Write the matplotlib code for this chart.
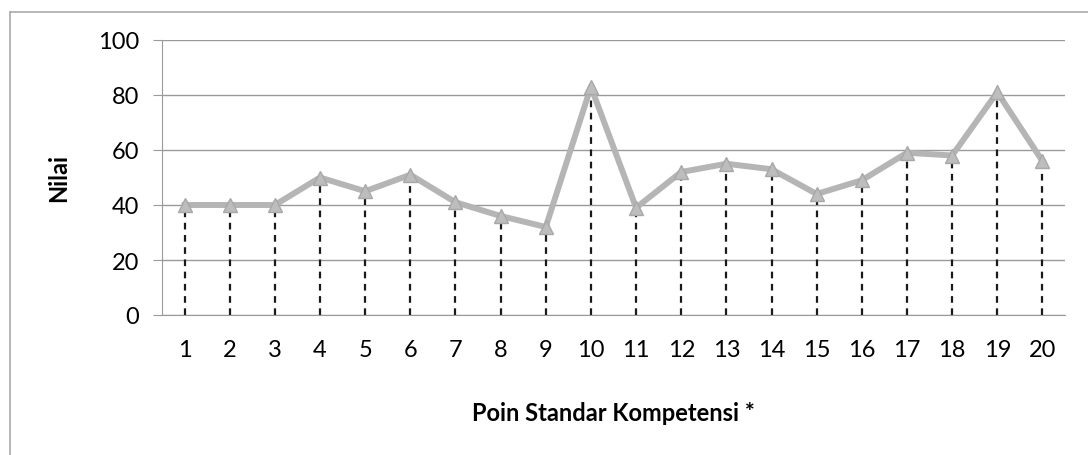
"""Grafik nilai per poin standar kompetensi"""
from matplotlib import pyplot as plt
from matplotlib.lines import Line2D

poin = list(range(1, 21))
nilai = [40, 40, 40, 50, 45, 51, 41, 36, 32, 83,
         39, 52, 55, 53, 44, 49, 59, 58, 81, 56]
y_ticks = [0, 20, 40, 60, 80, 100]

plt.rcParams['font.family'] = ['Lato', 'DejaVu Sans']

fig = plt.figure(figsize=(10.88, 4.56), dpi=100)
ax = fig.add_axes([162 / 1088, 1 - 316 / 456, 903 / 1088, 275 / 456])

# garis putus-putus dari titik ke sumbu x
ax.vlines(poin, 0, nilai, colors='#1a1a1a', linestyles=(0, (3, 2.5)), linewidth=1.6, zorder=2)
# garis data abu-abu tebal dengan penanda segitiga
ax.plot(poin, nilai, color='#b5b5b5', linewidth=4.3, marker='^', markersize=10,
        markerfacecolor='#bdbdbd', markeredgecolor='#a8a8a8', zorder=3)

ax.set_xlim(0.5, 20.5)
ax.set_ylim(0, 100)
ax.set_yticks(y_ticks)
ax.set_xticks(poin)
ax.grid(axis='y', color='#9a9a9a', linewidth=1.0)
ax.set_axisbelow(True)
for s in ['top', 'right']:
    ax.spines[s].set_visible(False)
ax.spines['left'].set_color('#9a9a9a')
ax.spines['bottom'].set_color('#9a9a9a')
ax.tick_params(axis='y', length=6.5, color='#9a9a9a', labelsize=17, pad=10)
ax.tick_params(axis='x', length=0, labelsize=17, pad=17)

ax.set_xlabel('Poin Standar Kompetensi *', fontsize=17, fontweight='bold', labelpad=30)
ax.set_ylabel('Nilai', fontsize=17, fontweight='bold', labelpad=20)

# bingkai luar (atas dan kiri)
fig.add_artist(Line2D([10 / 1088, 1], [1 - 13 / 456, 1 - 13 / 456], color='#aaaaaa', linewidth=1.2))
fig.add_artist(Line2D([10 / 1088, 10 / 1088], [0, 1 - 13 / 456], color='#aaaaaa', linewidth=1.2))

fig.savefig('out.png', dpi=100)
